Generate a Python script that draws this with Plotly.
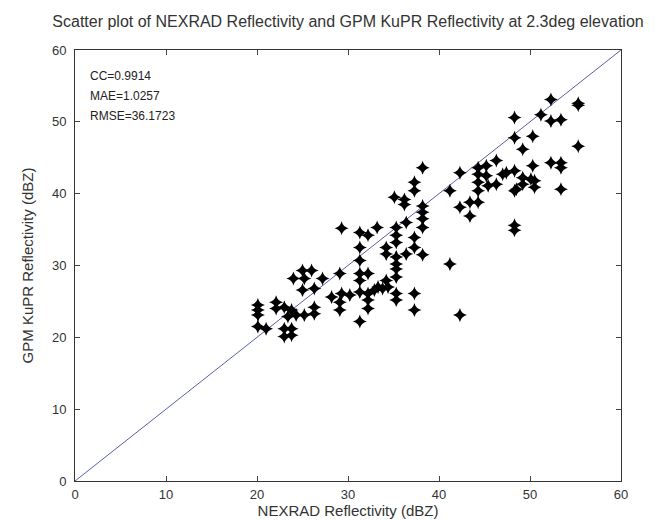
import plotly.graph_objects as go

nexrad = [
    25.0, 26.0, 24.0, 25.2, 27.2, 29.1, 26.3, 25.0, 28.2, 29.3, 29.1, 29.1,
    20.1, 20.1, 20.1, 22.1, 22.1, 23.0, 23.8, 23.4, 24.3, 25.2, 26.3, 26.3,
    20.1, 21.0, 23.0, 23.8, 23.0, 23.8,
    38.2, 37.3, 37.3, 35.1, 36.2, 36.2, 38.2, 38.2, 38.2, 38.2, 29.3, 33.2,
    31.3, 32.2, 35.3, 35.3, 35.3, 36.4, 31.3, 34.2, 34.2, 37.3, 37.3, 38.2,
    35.3, 35.3, 35.3, 36.4, 31.3, 31.3, 31.3, 32.2, 35.3, 34.2, 33.3, 33.8,
    34.4, 32.9, 30.2, 31.3, 32.2, 32.2, 32.2, 35.3, 35.3, 37.3, 37.3, 31.3,
    46.3, 44.3, 45.2, 44.3, 45.2, 47.0, 42.3, 41.2, 44.3, 45.4, 46.3, 44.3,
    42.3, 43.4, 44.3, 43.4, 41.2, 42.3, 47.4, 48.5,
    52.3, 55.3, 55.3, 51.2, 48.3, 52.3, 53.4, 48.3, 50.3, 49.2, 55.3, 52.3,
    53.4, 53.4, 50.3, 48.3, 49.2, 49.2, 50.1, 50.5, 50.5, 48.3, 53.4, 48.3,
    48.3,
]
gpm = [
    29.3, 29.3, 28.2, 28.2, 28.2, 28.9, 26.8, 26.6, 25.6, 26.1, 24.9, 23.8,
    24.5, 23.8, 23.1, 24.9, 24.0, 24.2, 23.8, 22.9, 23.1, 23.1, 24.2, 23.3,
    21.5, 21.2, 21.2, 21.2, 20.1, 20.3,
    43.6, 41.6, 40.4, 39.5, 39.2, 38.5, 38.3, 37.4, 36.5, 35.3, 35.2, 35.3,
    34.6, 34.2, 35.3, 34.2, 33.2, 36.0, 32.5, 32.5, 31.6, 33.9, 32.5, 31.5,
    31.2, 30.2, 29.5, 31.6, 30.7, 28.9, 27.9, 28.9, 28.4, 27.9, 27.0, 26.8,
    27.0, 26.6, 25.9, 26.3, 26.1, 25.2, 24.0, 26.1, 25.2, 26.1, 23.8, 22.2,
    44.6, 43.6, 43.9, 42.7, 42.5, 42.7, 42.9, 40.4, 41.6, 41.1, 41.3, 40.4,
    38.1, 38.8, 38.8, 36.9, 30.2, 23.1, 42.9, 40.6,
    53.1, 52.6, 52.3, 51.0, 50.6, 50.1, 50.3, 47.8, 48.0, 46.2, 46.6, 44.3,
    44.3, 43.6, 43.9, 43.2, 42.2, 41.3, 42.0, 41.8, 40.9, 40.4, 40.6, 35.6,
    34.9,
]
line_x = [0, 60]
line_y = [0, 60]
ticks = [0, 10, 20, 30, 40, 50, 60]
stats_text = ["CC=0.9914", "MAE=1.0257", "RMSE=36.1723"]
stats_y = [56.4, 53.6, 50.8]

fig = go.Figure()
fig.add_trace(go.Scatter(x=line_x, y=line_y, mode="lines",
                         line=dict(color="#5a5ea8", width=1), showlegend=False))
fig.add_trace(go.Scatter(x=nexrad, y=gpm, mode="markers",
                         marker=dict(symbol="star-diamond", size=10, color="black",
                                     line=dict(width=0)),
                         showlegend=False))
for t, yy in zip(stats_text, stats_y):
    fig.add_annotation(x=1.4, y=yy, text=t, showarrow=False, xanchor="left",
                       yanchor="middle", font=dict(size=12, color="#222"))

axis_common = dict(range=[0, 60], tickvals=ticks, ticks="inside", ticklen=5,
                   showline=True, linecolor="#333", linewidth=1, mirror="ticks",
                   showgrid=False, zeroline=False,
                   tickfont=dict(size=13, color="#333"))
fig.update_layout(
    width=661, height=521,
    paper_bgcolor="white", plot_bgcolor="white",
    margin=dict(l=67, r=48, t=42, b=48),
    font=dict(family="Liberation Sans, Arial, sans-serif", color="#333"),
    title=dict(text="Scatter plot of NEXRAD Reflectivity and GPM KuPR Reflectivity at 2.3deg elevation",
               x=0.5, xref="paper", xanchor="center", y=0.985, yanchor="top",
               font=dict(size=16, color="#333")),
    xaxis=dict(title=dict(text="NEXRAD Reflectivity (dBZ)", font=dict(size=15), standoff=0),
               ticklabelstandoff=1, **axis_common),
    yaxis=dict(title=dict(text="GPM KuPR Reflectivity (dBZ)", font=dict(size=15), standoff=14),
               ticklabelstandoff=5, **axis_common),
)
fig.write_html("out.html")
